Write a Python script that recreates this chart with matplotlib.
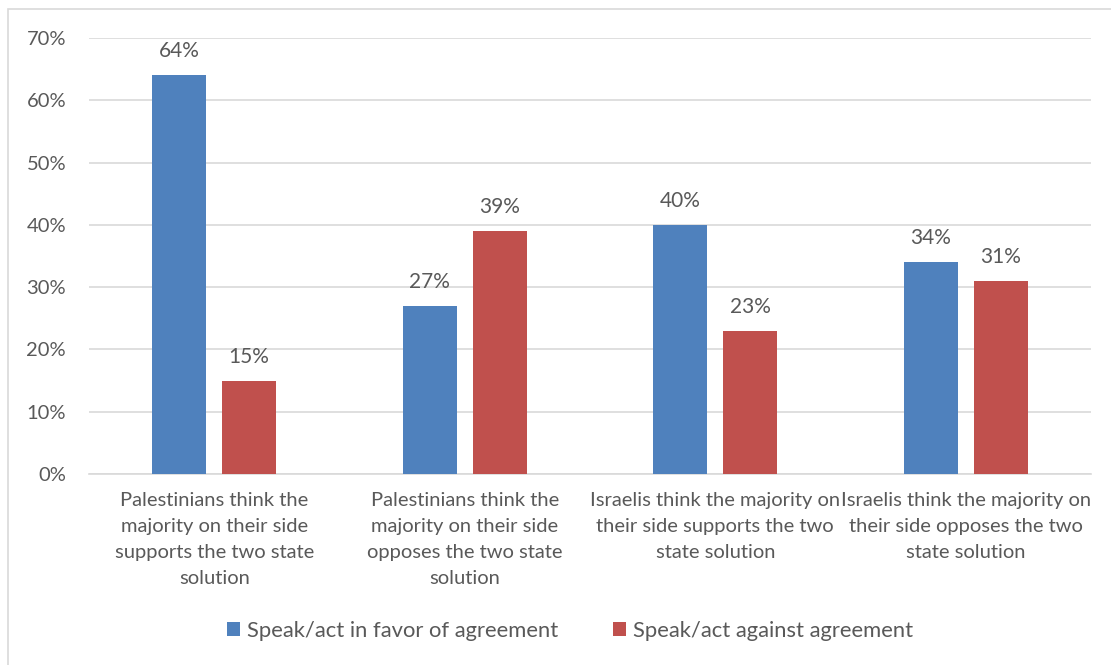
import matplotlib
matplotlib.use('Agg')
import matplotlib.pyplot as plt
from matplotlib.patches import Rectangle
from matplotlib.ticker import FuncFormatter
import numpy as np

plt.rcParams['font.family'] = ['Lato', 'DejaVu Sans']

categories = [
    "Palestinians think the\nmajority on their side\nsupports the two state\nsolution",
    "Palestinians think the\nmajority on their side\nopposes the two state\nsolution",
    "Israelis think the majority on\ntheir side supports the two\nstate solution",
    "Israelis think the majority on\ntheir side opposes the two\nstate solution",
]
in_favor = [64, 27, 40, 34]
against = [15, 39, 23, 31]
series_names = ["Speak/act in favor of agreement", "Speak/act against agreement"]

blue = "#4f81bd"
red = "#c0504d"
text_grey = "#595959"

fig = plt.figure(figsize=(11.11, 6.65), dpi=100)
ax = fig.add_axes([89 / 1111, 1 - 474 / 665, 1002 / 1111, 436 / 665])

x = np.arange(len(categories))
width = 0.215
offset = 0.1395
b1 = ax.bar(x - offset, in_favor, width, color=blue, label=series_names[0], zorder=3)
b2 = ax.bar(x + offset, against, width, color=red, label=series_names[1], zorder=3)

for bars, vals in ((b1, in_favor), (b2, against)):
    for rect, v in zip(bars, vals):
        ax.annotate(f"{v}%", (rect.get_x() + rect.get_width() / 2, v),
                    xytext=(0, 10), textcoords="offset points",
                    ha="center", va="bottom", fontsize=15, color=text_grey)

ax.set_xlim(-0.5, len(categories) - 0.5)
ax.set_ylim(0, 70)
ax.set_yticks(range(0, 71, 10))
ax.yaxis.set_major_formatter(FuncFormatter(lambda v, _: f"{int(v)}%"))
ax.grid(axis="y", color="#d9d9d9", linewidth=1.2, zorder=0)
for side in ("top", "right", "left"):
    ax.spines[side].set_visible(False)
ax.spines["bottom"].set_color("#d9d9d9")
ax.spines["bottom"].set_linewidth(1.2)
ax.tick_params(axis="y", length=0, pad=16.5, labelsize=14.5, labelcolor=text_grey)
ax.tick_params(axis="x", length=0, pad=13, labelsize=14.5, labelcolor=text_grey)
ax.set_xticks(x)
ax.set_xticklabels(categories, linespacing=1.64)

ax.legend(loc="center", bbox_to_anchor=(570 / 1111, 1 - 631 / 665), bbox_transform=fig.transFigure,
          ncol=2, frameon=False, fontsize=15.8, labelcolor=text_grey,
          handlelength=0.6, handleheight=0.6, handletextpad=0.3, columnspacing=2.5)

# chart frame
fig.patches.append(Rectangle((8 / 1111, -0.1), 1.2, 1 - 9 / 665 + 0.1, transform=fig.transFigure,
                             fill=False, edgecolor="#d9d9d9", linewidth=1.2))

fig.savefig("out.png", dpi=100)
